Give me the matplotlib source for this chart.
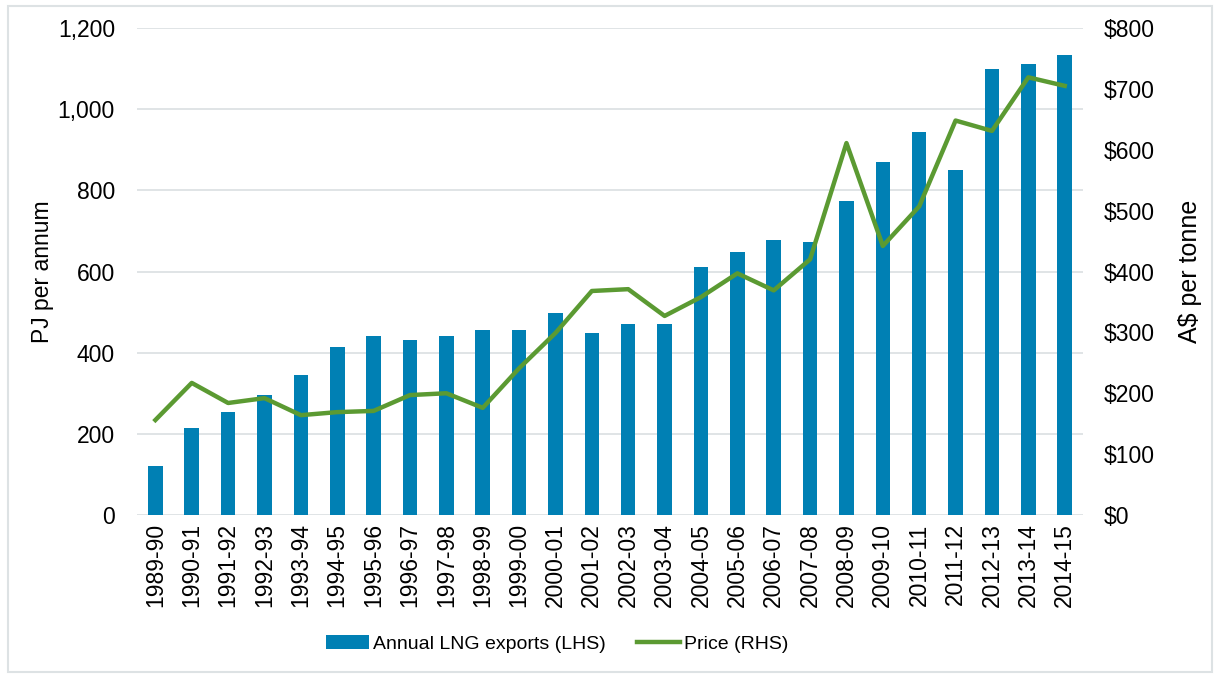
import matplotlib
matplotlib.use("Agg")
from matplotlib import pyplot as plt
from matplotlib.ticker import FuncFormatter
from matplotlib.patches import Rectangle

plt.rcParams["font.family"] = ["Liberation Sans", "DejaVu Sans"]

# data
years = ["1989-90", "1990-91", "1991-92", "1992-93", "1993-94", "1994-95",
         "1995-96", "1996-97", "1997-98", "1998-99", "1999-00", "2000-01",
         "2001-02", "2002-03", "2003-04", "2004-05", "2005-06", "2006-07",
         "2007-08", "2008-09", "2009-10", "2010-11", "2011-12", "2012-13",
         "2013-14", "2014-15"]
exports_pj = [120, 215, 255, 295, 345, 413, 442, 430, 442, 455, 457, 498,
              448, 470, 470, 612, 647, 677, 673, 773, 870, 943, 851, 1098,
              1111, 1133]
price_aud = [156, 217, 184, 192, 164, 169, 171, 197, 200, 176, 241, 299,
             368, 371, 327, 358, 397, 369, 420, 611, 442, 507, 648, 631,
             719, 705]

bar_color = "#0080B4"
line_color = "#5B9A32"
grid_color = "#DDE2E4"

fig = plt.figure(figsize=(12.14, 6.77), dpi=100)
ax = fig.add_axes([0.113, 0.2393, 0.779, 0.7193])
ax2 = ax.twinx()

x = list(range(len(years)))
bars = ax.bar(x, exports_pj, width=0.4, color=bar_color, zorder=2,
              label="Annual LNG exports (LHS)")
line, = ax2.plot(x, price_aud, color=line_color, lw=3.2, zorder=3,
                 solid_joinstyle="round", label="Price (RHS)")

ax.set_xlim(-0.5, len(years) - 0.5)
ax.set_ylim(0, 1200)
ax.set_yticks(range(0, 1201, 200))
ax.yaxis.set_major_formatter(FuncFormatter(lambda v, p: f"{int(v):,}"))
ax2.set_ylim(0, 800)
ax2.set_yticks(range(0, 801, 100))
ax2.yaxis.set_major_formatter(FuncFormatter(lambda v, p: f"${int(v)}"))

ax.set_xticks(x)
ax.set_xticklabels(years, rotation=90, fontsize=16.5)
ax.grid(axis="y", color=grid_color, lw=1.3, zorder=0)
ax.set_axisbelow(True)

for a in (ax, ax2):
    for s in a.spines.values():
        s.set_visible(False)
    a.tick_params(length=0, labelsize=16.5)
ax.tick_params(axis="y", pad=16)
ax.tick_params(axis="x", pad=6)
ax2.tick_params(axis="y", pad=15)

ax.set_ylabel("PJ per annum", fontsize=16.5, labelpad=3)
ax2.set_ylabel("A$ per tonne", fontsize=18, labelpad=17)

fig.legend(handles=[bars, line], loc="center", bbox_to_anchor=(0.459, 0.049),
           ncol=2, frameon=False, fontsize=14, handlelength=2.2,
           handletextpad=0.2, columnspacing=1.6)

# light frame around the chart
fig.add_artist(Rectangle((8 / 1214, 5 / 677), 1 - 10 / 1214, 1 - 11 / 677,
                         transform=fig.transFigure, fill=False,
                         edgecolor=grid_color, lw=1.5))

fig.savefig("out.png", dpi=100)
